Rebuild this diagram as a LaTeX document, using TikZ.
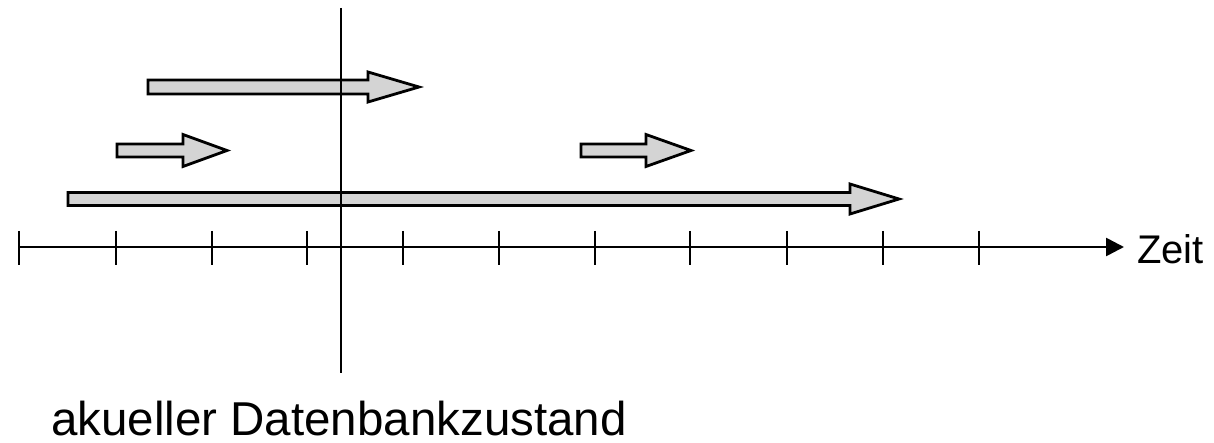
\documentclass[tikz,border=0pt]{standalone}
\usepackage{fontspec}
\setmainfont{Liberation Sans}
\usetikzlibrary{arrows.meta}
\tikzset{
  blockarrow/.style={draw=black, fill=arrowgray, line width=2.8pt, line join=miter},
  axisline/.style={draw=black, line width=2.6pt},
  tickline/.style={draw=black, line width=1.8pt},
  nowline/.style={draw=black, line width=2.4pt},
  lbl/.style={inner sep=0pt, anchor=base west},
}
\definecolor{arrowgray}{HTML}{D4D4D4}
% #1 x left, #2 x head base, #3 x tip, #4 y centre, #5 shaft half height, #6 head half height
\newcommand{\myblockarrow}[6]{%
  \path[blockarrow] (#1,#4-#5) -- (#2,#4-#5) -- (#2,#4-#6) -- (#3,#4) -- (#2,#4+#6) -- (#2,#4+#5) -- (#1,#4+#5) -- cycle;}
\begin{document}
\begin{tikzpicture}[x=1pt, y=-1pt]
\useasboundingbox (0,0) rectangle (1214,443);
% block arrows
\myblockarrow{148}{368}{419}{87}{7}{15}
\myblockarrow{117}{183}{227}{150.5}{6.5}{16}
\myblockarrow{581}{646}{691}{150.5}{6.5}{16}
\myblockarrow{68}{850}{899}{199}{6.5}{15}
% vertical "now" line
\coordinate (nowtop) at (341,8);
\coordinate (nowbot) at (341,373);
\draw[nowline] (nowtop) -- (nowbot);
% time axis
\coordinate (axstart) at (19,247);
\coordinate (axend) at (1124,247);
\draw[axisline, -{Triangle[length=18pt,width=18pt]}] (axstart) -- (axend);
\foreach \tx in {19,116,212,307,403,499,595,690,787,883,979}{
  \draw[tickline] (\tx,231) -- (\tx,265);
}
\node[lbl, font=\fontsize{40}{48}\selectfont] (zeit) at (1137,264) {Zeit};
\node[lbl, font=\fontsize{47.5}{56}\selectfont] (zustand) at (51,435) {akueller Datenbankzustand};
\end{tikzpicture}
\end{document}
